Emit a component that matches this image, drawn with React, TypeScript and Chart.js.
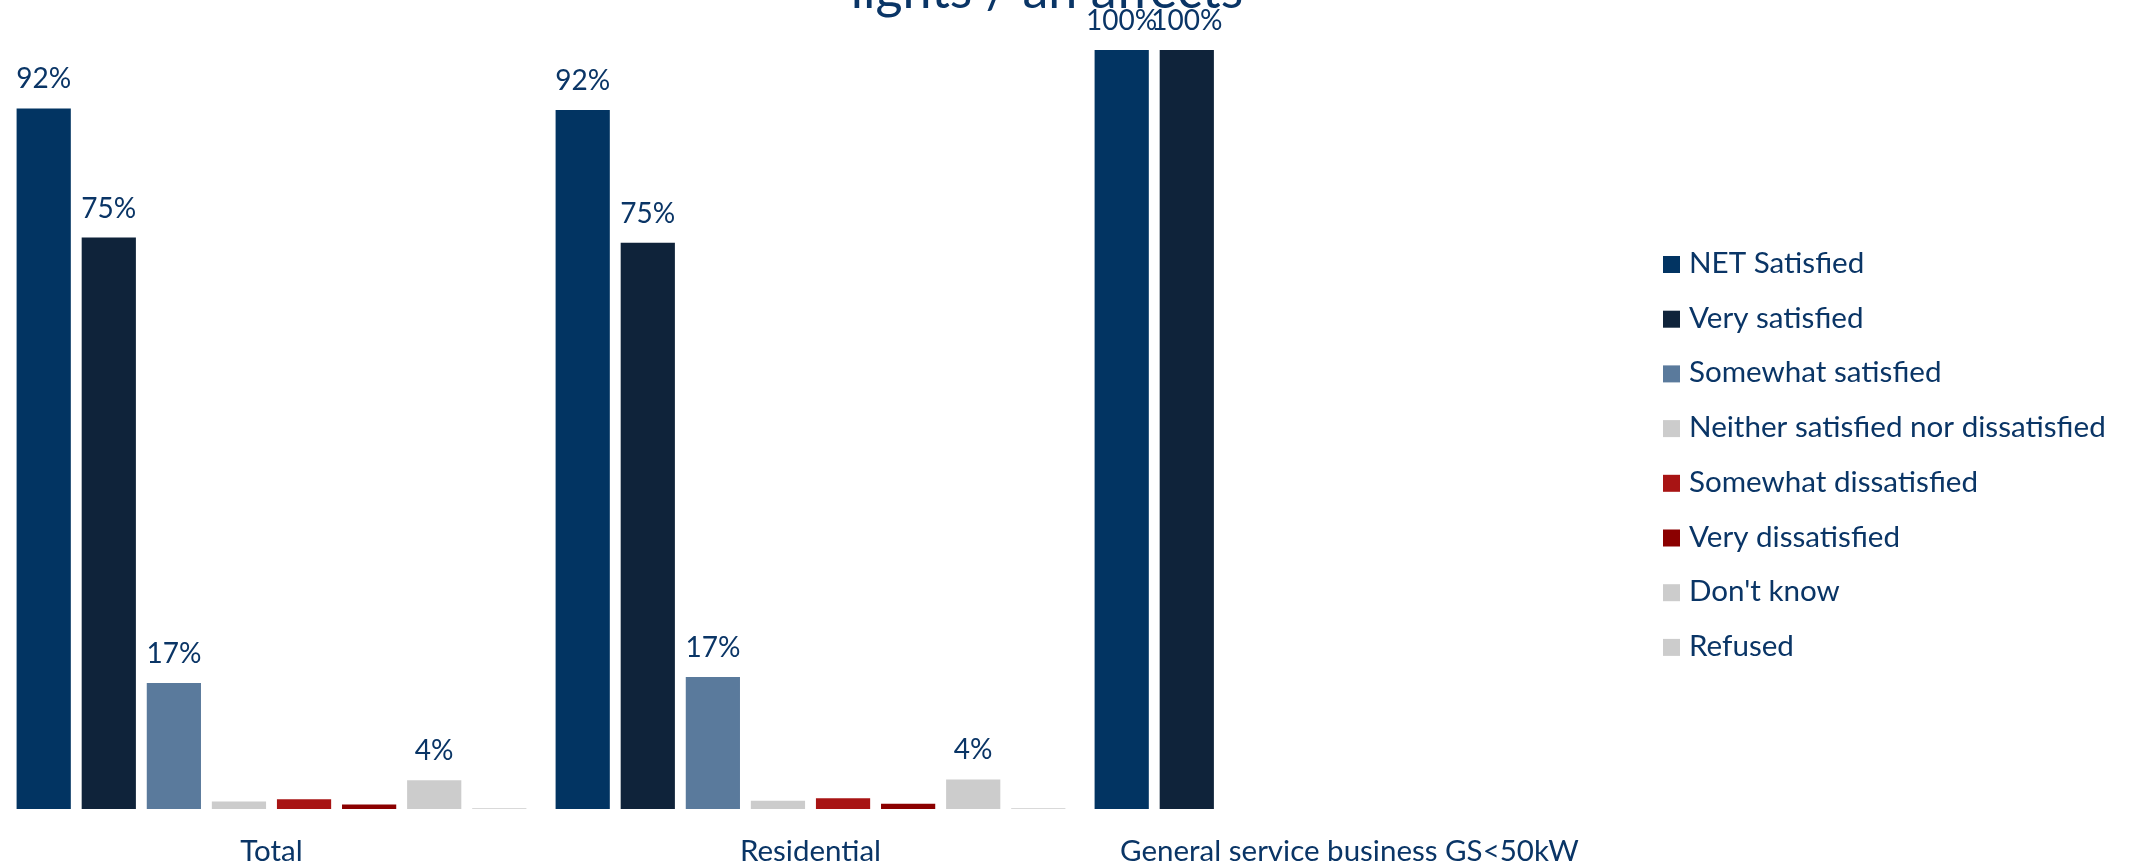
import React, { useEffect, useRef } from "react";
import { Chart, registerables } from "chart.js";

Chart.register(...registerables);

const categories = ["Total", "Residential", "General service business GS<50kW"];
const seriesNames = [
  "NET Satisfied",
  "Very satisfied",
  "Somewhat satisfied",
  "Neither satisfied nor dissatisfied",
  "Somewhat dissatisfied",
  "Very dissatisfied",
  "Don't know",
  "Refused",
];
const netSatisfied = [92.3, 92.1, 100];
const verySatisfied = [75.3, 74.6, 100];
const somewhatSatisfied = [16.6, 17.4, null];
const neither = [1, 1.1, null];
const somewhatDissatisfied = [1.3, 1.4, null];
const veryDissatisfied = [0.6, 0.7, null];
const dontKnow = [3.8, 3.9, null];
const refused = [0.1, 0.1, null];
const seriesColors = ["#023462", "#0F233A", "#5A7A9C", "#CCCCCC", "#A81414", "#8B0000", "#CCCCCC", "#CCCCCC"];
const titleText = "lights / an affects";

const TEXT = "#0A3566";
const FONT = "Lato";

const labelPlugin = {
  id: "valueLabels",
  afterDatasetsDraw(chart: any) {
    const ctx = chart.ctx;
    ctx.save();
    ctx.font = `28px ${FONT}`;
    ctx.fillStyle = TEXT;
    ctx.textAlign = "center";
    ctx.textBaseline = "bottom";
    chart.data.datasets.forEach((ds: any, di: number) => {
      const meta = chart.getDatasetMeta(di);
      meta.data.forEach((el: any, i: number) => {
        const v = ds.data[i];
        if (v == null || v < 3) return;
        ctx.fillText(`${Math.round(v)}%`, el.x, el.y - 15);
      });
    });
    ctx.restore();
  },
};

const titlePlugin = {
  id: "cutTitle",
  afterDraw(chart: any) {
    const ctx = chart.ctx;
    ctx.save();
    ctx.font = `52px ${FONT}`;
    ctx.fillStyle = TEXT;
    ctx.textAlign = "center";
    ctx.textBaseline = "alphabetic";
    ctx.fillText(titleText, 1047, 8);
    ctx.restore();
  },
};

const legendPlugin = {
  id: "sideLegend",
  afterDraw(chart: any) {
    const ctx = chart.ctx;
    const boxX = 1663;
    const box = 17;
    const rowGap = 54.7;
    const firstBaseline = 273;
    ctx.save();
    ctx.font = `29.6px ${FONT}`;
    ctx.textAlign = "left";
    ctx.textBaseline = "alphabetic";
    chart.data.datasets.forEach((ds: any, i: number) => {
      const yb = firstBaseline + i * rowGap;
      ctx.fillStyle = ds.backgroundColor;
      ctx.fillRect(boxX, yb - box, box, box);
      ctx.fillStyle = TEXT;
      ctx.fillText(ds.label, boxX + box + 9, yb);
    });
    ctx.restore();
  },
};

export default function App() {
  const ref = useRef<HTMLCanvasElement | null>(null);
  useEffect(() => {
    document.body.style.margin = "0";
    const values = [netSatisfied, verySatisfied, somewhatSatisfied, neither, somewhatDissatisfied, veryDissatisfied, dontKnow, refused];
    const chart = new Chart(ref.current as HTMLCanvasElement, {
      type: "bar",
      data: {
        labels: categories,
        datasets: seriesNames.map((name, i) => ({
          label: name,
          data: values[i] as any,
          backgroundColor: seriesColors[i],
          borderWidth: 0,
          categoryPercentage: 0.966,
          barPercentage: 0.833,
        })),
      },
      options: {
        responsive: false,
        animation: false,
        layout: { padding: { top: 50, left: 2, right: 510, bottom: 0 } },
        plugins: {
          tooltip: { enabled: false },
          title: { display: false },
          legend: { display: false },
        },
        scales: {
          x: {
            grid: { display: false, drawTicks: false },
            border: { display: false },
            ticks: { color: TEXT, font: { family: FONT, size: 29.5 }, padding: 25 },
            afterFit: (scale: any) => {
              scale.height = 57;
            },
          },
          y: {
            display: false,
            min: 0,
            max: 100,
          },
        },
      },
      plugins: [labelPlugin, titlePlugin, legendPlugin],
    });
    return () => chart.destroy();
  }, []);
  return (
    <div style={{ width: 2129, height: 866, background: "#fff" }}>
      <canvas ref={ref} width={2129} height={866} style={{ display: "block" }} />
    </div>
  );
}
